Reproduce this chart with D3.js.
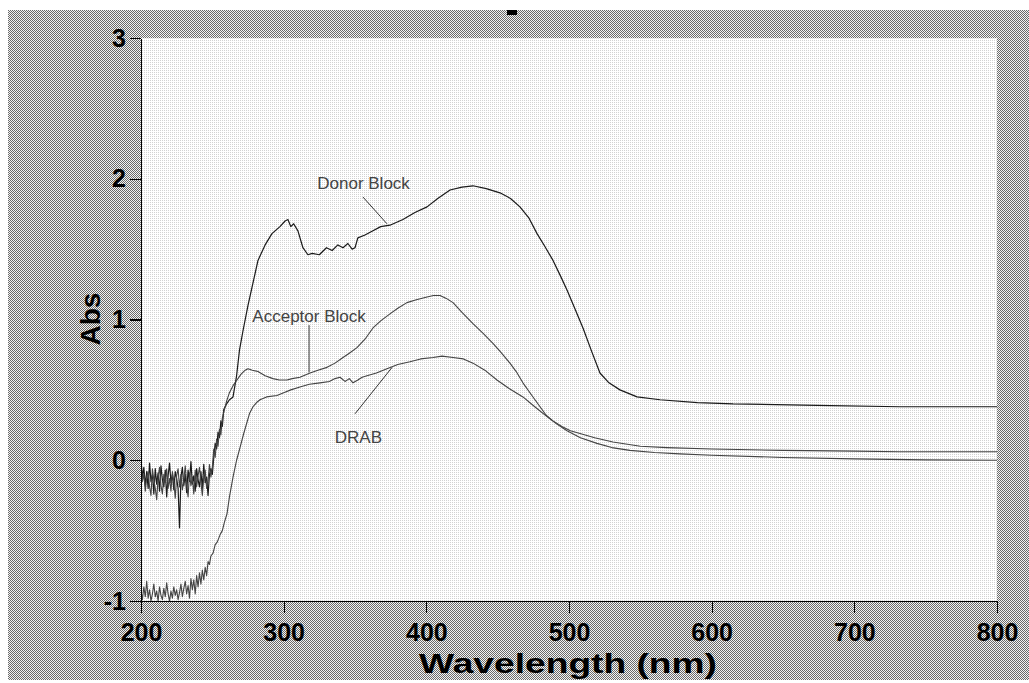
<!DOCTYPE html>
<html>
<head>
<meta charset="utf-8">
<script src="https://cdn.jsdelivr.net/npm/d3@7"></script>
<style>
  body { margin: 0; background: #fff; }
  svg { display: block; }
  .axis text { font-family: 'Liberation Sans', Arial, sans-serif; font-weight: bold; font-size: 25px; fill: #000; }
  .axis path, .axis line { stroke: #000; stroke-width: 1.3; shape-rendering: crispEdges; }
  .note { font-family: 'Liberation Sans', Arial, sans-serif; font-size: 17px; fill: #444; }
  .title { font-family: 'Liberation Sans', Arial, sans-serif; font-weight: bold; font-size: 28px; fill: #000; }
</style>
</head>
<body>
<script>
(function () {
  'use strict'

  // spectra: [wavelength nm, absorbance]
  var donorBlock = [
    [200, 0.0], [201, -0.12], [202, -0.05], [203, -0.18], [204, -0.08], [205, -0.2], [206, -0.02],
    [207, -0.15], [208, -0.1], [209, -0.24], [210, -0.06], [211, -0.17], [212, -0.09], [213, -0.22],
    [214, -0.04], [215, -0.14], [216, -0.19], [217, -0.07], [218, -0.26], [219, -0.11], [220, -0.02],
    [221, -0.16], [222, -0.1], [223, -0.21], [224, -0.08], [225, -0.13], [226, -0.2], [227, -0.48],
    [228, -0.12], [229, -0.05], [230, -0.18], [231, -0.1], [232, -0.23], [233, -0.07], [234, -0.15],
    [235, -0.01], [236, -0.17], [237, -0.11], [238, -0.22], [239, -0.06], [240, -0.14], [241, -0.19],
    [242, -0.08], [243, -0.2], [244, -0.03], [245, -0.16], [246, -0.12], [247, -0.25], [248, -0.1],
    [249, -0.06], [250, -0.1], [251, 0.02], [252, 0.12], [253, 0.08], [254, 0.2], [255, 0.16],
    [256, 0.28], [257, 0.24], [258, 0.36], [260, 0.4], [262, 0.43], [264.5, 0.45], [267, 0.6],
    [269, 0.78], [271.5, 0.92], [275, 1.1], [278.5, 1.26], [282, 1.42], [287, 1.53], [291.8, 1.61],
    [297.4, 1.66], [301, 1.7], [303, 1.71], [305, 1.66], [307, 1.68], [310, 1.63], [313.5, 1.51],
    [317, 1.46], [320, 1.47], [325, 1.46], [330, 1.51], [334, 1.49], [338, 1.53], [341.6, 1.51],
    [345, 1.54], [348, 1.5], [350, 1.51], [352, 1.58], [357, 1.6], [362.6, 1.63], [368, 1.66],
    [374.5, 1.67], [383.6, 1.71], [392, 1.76], [400.5, 1.8], [408, 1.86], [416.6, 1.92], [425, 1.94],
    [432.7, 1.95], [442, 1.93], [451.6, 1.9], [459, 1.86], [465.6, 1.8], [472, 1.72], [477.6, 1.61],
    [483, 1.52], [488.8, 1.42], [494, 1.31], [498.6, 1.21], [504, 1.08], [509.8, 0.94], [516, 0.77],
    [521.7, 0.62], [528, 0.55], [535.7, 0.5], [547.7, 0.45], [563.8, 0.43], [590, 0.41], [615, 0.4],
    [673.8, 0.39], [732, 0.38], [800, 0.38]
  ]

  var acceptorBlock = [
    [200, -0.04], [201, -0.15], [202, -0.1], [203, -0.22], [204, -0.12], [205, -0.08], [206, -0.19],
    [207, -0.25], [208, -0.06], [209, -0.14], [210, -0.2], [211, -0.28], [212, -0.12], [213, -0.05],
    [214, -0.18], [215, -0.24], [216, -0.1], [217, -0.16], [218, -0.06], [219, -0.2], [220, -0.13],
    [221, -0.22], [222, -0.08], [223, -0.15], [224, -0.27], [225, -0.11], [226, -0.06], [227, -0.19],
    [228, -0.1], [229, -0.21], [230, -0.14], [231, -0.04], [232, -0.17], [233, -0.26], [234, -0.09],
    [235, -0.18], [236, -0.12], [237, -0.24], [238, -0.07], [239, -0.19], [240, -0.11], [241, -0.05],
    [242, -0.16], [243, -0.25], [244, -0.12], [245, -0.07], [246, -0.2], [247, -0.14], [248, -0.03],
    [249, -0.12], [250, -0.05], [251, 0.08], [252, 0.02], [253, 0.15], [254, 0.1], [255, 0.22],
    [256, 0.18], [257, 0.3], [258, 0.34], [260, 0.42], [262, 0.48], [264.5, 0.53], [267.3, 0.57],
    [270, 0.61], [273, 0.64], [275, 0.65], [278, 0.64], [282, 0.63], [287, 0.6], [292.5, 0.58],
    [297, 0.57], [302.3, 0.57], [306, 0.58], [311.4, 0.59], [318.5, 0.62], [324, 0.64], [330.4, 0.66],
    [336, 0.69], [341.6, 0.73], [346, 0.76], [351.4, 0.8], [357, 0.86], [362.6, 0.94], [368, 0.99],
    [374.5, 1.04], [380, 1.08], [386.4, 1.12], [393, 1.14], [400.5, 1.16], [405, 1.17], [409.6, 1.17],
    [414, 1.15], [418.7, 1.12], [425, 1.05], [432.7, 0.97], [440, 0.9], [446.7, 0.83], [452, 0.77],
    [458.6, 0.69], [463, 0.63], [467.7, 0.55], [474, 0.46], [479.7, 0.38], [484, 0.32], [488.8, 0.28],
    [495, 0.24], [501, 0.21], [507.7, 0.19], [518, 0.16], [530.8, 0.13], [550, 0.1], [568.7, 0.09],
    [600, 0.08], [650, 0.07], [700, 0.065], [732, 0.06], [800, 0.06]
  ]

  var drab = [
    [200, -0.93], [201, -0.99], [202, -0.9], [203, -0.97], [204, -0.86], [205, -0.98], [206, -0.92],
    [207, -1.0], [208, -0.95], [209, -0.88], [210, -0.97], [211, -0.93], [212, -1.0], [213, -0.9],
    [214, -0.96], [215, -0.99], [216, -0.91], [217, -0.97], [218, -0.87], [219, -0.95], [220, -1.0],
    [221, -0.93], [222, -0.98], [223, -0.9], [224, -0.96], [225, -0.92], [226, -0.99], [227, -0.94],
    [228, -0.88], [229, -0.97], [230, -0.91], [231, -0.86], [232, -0.95], [233, -0.89], [234, -0.98],
    [235, -0.84], [236, -0.92], [237, -0.85], [238, -0.95], [239, -0.82], [240, -0.9], [241, -0.8],
    [242, -0.88], [243, -0.78], [244, -0.85], [245, -0.76], [246, -0.82], [247, -0.72], [248, -0.74],
    [249, -0.68], [250.5, -0.66], [252, -0.6], [253.5, -0.58], [255.4, -0.53], [257, -0.5],
    [258.5, -0.44], [260.3, -0.38], [262, -0.26], [264.5, -0.12], [267, 0.0], [269.4, 0.09],
    [272, 0.19], [274.3, 0.27], [276, 0.33], [278.5, 0.38], [281, 0.41], [283.4, 0.43], [288, 0.45],
    [295.3, 0.46], [300, 0.48], [305, 0.5], [311.4, 0.52], [318, 0.54], [325.5, 0.55], [332, 0.56],
    [336, 0.58], [339.5, 0.59], [343, 0.56], [346, 0.58], [348.6, 0.55], [352, 0.57], [355, 0.59],
    [358.4, 0.6], [365, 0.62], [372.4, 0.65], [380, 0.68], [388.5, 0.7], [396, 0.72], [404.7, 0.73],
    [411, 0.74], [418.7, 0.73], [426, 0.72], [432.7, 0.69], [441, 0.64], [449.5, 0.57], [458, 0.51],
    [467.7, 0.45], [476, 0.38], [484.6, 0.31], [491, 0.26], [498.6, 0.21], [508, 0.16], [519.6, 0.12],
    [530, 0.09], [542.7, 0.07], [560, 0.055], [577.8, 0.045], [600, 0.035], [650, 0.02], [700, 0.01],
    [750, 0.003], [800, 0.0]
  ]

  var xTicks = [200, 300, 400, 500, 600, 700, 800]
  var yTicks = [-1, 0, 1, 2, 3]

  // labels: text anchor point and leader line, in data units
  var notes = [
    { text: 'Donor Block', at: [356, 1.93], from: [355.6, 1.87], to: [372.4, 1.68] },
    { text: 'Acceptor Block', at: [317.8, 0.98], from: [317.8, 0.96], to: [317.8, 0.625] },
    { text: 'DRAB', at: [352.4, 0.12], from: [350, 0.33], to: [376, 0.66] }
  ]

  var series = [
    { name: 'donor', values: donorBlock, color: '#1a1a1a', width: 1.2 },
    { name: 'acceptor', values: acceptorBlock, color: '#444', width: 1.1 },
    { name: 'drab', values: drab, color: '#444', width: 1.1 }
  ]

  var W = 1029
  var H = 683
  var plot = { left: 141, right: 997, top: 38, bottom: 601 }

  var svg = d3.select('body').append('svg')
    .attr('width', W)
    .attr('height', H)

  var defs = svg.append('defs')

  // dithered greys, like the original screen grab
  var outer = defs.append('pattern')
    .attr('id', 'outer')
    .attr('width', 2).attr('height', 2)
    .attr('patternUnits', 'userSpaceOnUse')
  outer.append('rect').attr('width', 2).attr('height', 2).attr('fill', '#f4f4f4')
  outer.append('rect').attr('width', 1).attr('height', 1).attr('fill', '#6a6a6a')
  outer.append('rect').attr('x', 1).attr('y', 1).attr('width', 1).attr('height', 1).attr('fill', '#6a6a6a')

  var inner = defs.append('pattern')
    .attr('id', 'inner')
    .attr('width', 2).attr('height', 2)
    .attr('patternUnits', 'userSpaceOnUse')
  inner.append('rect').attr('width', 2).attr('height', 2).attr('fill', '#ffffff')
  inner.append('rect').attr('width', 1).attr('height', 1).attr('fill', '#d2d2d2')

  defs.append('clipPath').attr('id', 'clip')
    .append('rect')
    .attr('x', plot.left).attr('y', plot.top)
    .attr('width', plot.right - plot.left)
    .attr('height', plot.bottom - plot.top)

  svg.append('rect')
    .attr('x', 8).attr('y', 10)
    .attr('width', W - 8).attr('height', 670)
    .attr('fill', 'url(#outer)')

  svg.append('rect')
    .attr('x', plot.left).attr('y', plot.top)
    .attr('width', plot.right - plot.left)
    .attr('height', plot.bottom - plot.top)
    .attr('fill', 'url(#inner)')

  // stub of the cut-off title
  svg.append('rect')
    .attr('x', 507).attr('y', 10)
    .attr('width', 10).attr('height', 5)
    .attr('fill', '#000')

  var x = d3.scaleLinear().domain([200, 800]).range([plot.left, plot.right])
  var y = d3.scaleLinear().domain([-1, 3]).range([plot.bottom, plot.top])

  var line = d3.line()
    .x(function (d) { return x(d[0]) })
    .y(function (d) { return y(d[1]) })

  svg.append('g')
    .attr('clip-path', 'url(#clip)')
    .selectAll('path')
    .data(series)
    .enter().append('path')
      .attr('class', function (d) { return 'spectrum ' + d.name })
      .attr('d', function (d) { return line(d.values) })
      .attr('fill', 'none')
      .attr('stroke', function (d) { return d.color })
      .attr('stroke-width', function (d) { return d.width })
      .attr('stroke-linejoin', 'round')

  var ann = svg.append('g').attr('class', 'notes')

  ann.selectAll('line')
    .data(notes)
    .enter().append('line')
      .attr('x1', function (d) { return x(d.from[0]) })
      .attr('y1', function (d) { return y(d.from[1]) })
      .attr('x2', function (d) { return x(d.to[0]) })
      .attr('y2', function (d) { return y(d.to[1]) })
      .attr('stroke', '#333')
      .attr('stroke-width', 1)

  ann.selectAll('text')
    .data(notes)
    .enter().append('text')
      .attr('class', 'note')
      .attr('x', function (d) { return x(d.at[0]) })
      .attr('y', function (d) { return y(d.at[1]) })
      .attr('text-anchor', 'middle')
      .text(function (d) { return d.text })

  var fmt = function (d) { return String(d) }

  svg.append('g')
    .attr('class', 'x axis')
    .attr('transform', 'translate(0,' + plot.bottom + ')')
    .call(d3.axisBottom(x).tickValues(xTicks).tickFormat(fmt)
      .tickSize(12).tickSizeOuter(0).tickPadding(10))

  svg.append('g')
    .attr('class', 'y axis')
    .attr('transform', 'translate(' + plot.left + ',0)')
    .call(d3.axisLeft(y).tickValues(yTicks).tickFormat(fmt)
      .tickSize(11).tickSizeOuter(0).tickPadding(4))

  svg.append('text')
    .attr('class', 'title')
    .attr('x', 568)
    .attr('y', 673)
    .attr('text-anchor', 'middle')
    .attr('textLength', 298)
    .attr('lengthAdjust', 'spacingAndGlyphs')
    .text('Wavelength (nm)')

  svg.append('text')
    .attr('class', 'title')
    .attr('transform', 'translate(100,' + 319 + ') rotate(-90)')
    .attr('text-anchor', 'middle')
    .text('Abs')
}())
</script>
</body>
</html>
